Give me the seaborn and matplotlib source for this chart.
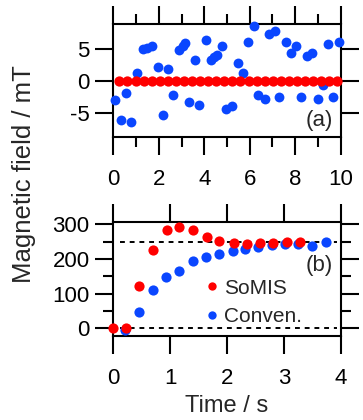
import matplotlib
matplotlib.use("Agg")
import matplotlib.pyplot as plt
import seaborn as sns
import pandas as pd
from matplotlib.ticker import MultipleLocator, NullLocator
from matplotlib.lines import Line2D

# ---- data: panel (a) ----
a_somis_t = [0.27, 0.62, 0.98, 1.33, 1.69, 2.04, 2.40, 2.75, 3.11, 3.46, 3.82, 4.17, 4.53, 4.88,
             5.24, 5.59, 5.95, 6.30, 6.66, 7.01, 7.37, 7.72, 8.08, 8.43, 8.79, 9.14, 9.50, 9.85]
a_somis_b = [0.0] * 28
a_conv_t = [0.07, 0.32, 0.54, 0.78, 1.03, 1.29, 1.47, 1.69, 1.98, 2.20, 2.42, 2.64, 2.89, 3.05, 3.15,
            3.34, 3.59, 3.78, 4.08, 4.28, 4.43, 4.55, 4.77, 4.96, 5.20, 5.47, 5.72, 5.94, 6.20, 6.38,
            6.67, 6.85, 7.11, 7.29, 7.58, 7.82, 8.02, 8.25, 8.50, 8.75, 8.99, 9.21, 9.43, 9.67, 9.94]
a_conv_b = [-3.0, -6.0, -1.8, -6.4, 1.3, 5.0, 5.1, 5.4, 2.1, -5.2, 1.8, -2.15, 4.8, 5.4, 5.8,
            -3.3, 3.3, -3.7, 6.3, 3.3, 3.7, 4.05, 5.4, -4.4, -3.8, 2.8, 1.3, 6.05, 8.45, -2.15,
            -2.8, 7.2, 7.7, -2.5, 5.95, 4.25, 5.4, -2.5, 3.9, 4.25, -2.8, -0.6, 5.7, -2.5, 6.05]

# ---- data: panel (b) ----
b_somis_t = [0.0, 0.22, 0.46, 0.69, 0.94, 1.16, 1.41, 1.64, 1.86, 2.12, 2.35, 2.58, 2.81, 3.05, 3.28]
b_somis_b = [0, 0, 123, 226, 283, 293, 283, 264, 252, 246, 245, 246, 247, 249, 250]
b_conv_t = [0.21, 0.46, 0.69, 0.93, 1.16, 1.40, 1.63, 1.86, 2.11, 2.32, 2.55, 2.79, 3.02, 3.25, 3.50, 3.74]
b_conv_b = [-5, 48, 110, 147, 166, 194, 205, 216, 223, 228, 235, 240, 243, 244, 238, 250]

ref_levels = [0, 250]
labels = ["SoMIS", "Conven."]

RED = "#ff0000"
BLUE = "#0a46ff"

sns.set_style("white")
plt.rcParams["font.family"] = ["Liberation Sans", "DejaVu Sans"]
plt.rcParams["font.size"] = 16
plt.rcParams["axes.unicode_minus"] = False

fig = plt.figure(figsize=(3.63, 4.2), dpi=100)
W, H = 363.0, 420.0
ax1 = fig.add_axes([113.3 / W, 1 - 137 / H, 227.4 / W, 113 / H])
ax2 = fig.add_axes([113.3 / W, 1 - 335.7 / H, 227.4 / W, 114 / H])

df_a_c = pd.DataFrame({"t": a_conv_t, "b": a_conv_b})
df_a_s = pd.DataFrame({"t": a_somis_t, "b": a_somis_b})
df_b_c = pd.DataFrame({"t": b_conv_t, "b": b_conv_b})
df_b_s = pd.DataFrame({"t": b_somis_t, "b": b_somis_b})

sns.scatterplot(data=df_a_c, x="t", y="b", ax=ax1, color=BLUE, s=50, linewidth=0, clip_on=False, zorder=3)
sns.scatterplot(data=df_a_s, x="t", y="b", ax=ax1, color=RED, s=55, linewidth=0, clip_on=False, zorder=4)

for lv in ref_levels:
    ax2.axhline(lv, xmin=0.03, xmax=0.985, color="black", lw=1.4, ls=(0, (2.5, 2.5)), zorder=2)
sns.scatterplot(data=df_b_c, x="t", y="b", ax=ax2, color=BLUE, s=54, linewidth=0, clip_on=False, zorder=3)
sns.scatterplot(data=df_b_s, x="t", y="b", ax=ax2, color=RED, s=54, linewidth=0, clip_on=False, zorder=4)

ax1.set_xlim(0, 10)
ax1.set_ylim(-8.65, 8.8)
ax2.set_xlim(0, 4)
ax2.set_ylim(-21, 308)

ax1.xaxis.set_major_locator(MultipleLocator(2))
ax1.xaxis.set_minor_locator(MultipleLocator(1))
ax1.yaxis.set_major_locator(MultipleLocator(5))
ax1.yaxis.set_minor_locator(NullLocator())
ax2.xaxis.set_major_locator(MultipleLocator(1))
ax2.xaxis.set_minor_locator(NullLocator())
ax2.yaxis.set_major_locator(MultipleLocator(100))
ax2.yaxis.set_minor_locator(MultipleLocator(50))

for ax in (ax1, ax2):
    ax.set_xlabel("")
    ax.set_ylabel("")
    for sp in ax.spines.values():
        sp.set_visible(True)
        sp.set_color("black")
        sp.set_linewidth(1.5)
    ax.tick_params(which="both", direction="out", top=True, right=True, bottom=True, left=True,
                   color="black", width=1.5, labelsize=16, labelcolor="black")
    ax.tick_params(which="major", length=13)
    ax.tick_params(which="minor", length=7)
    ax.tick_params(axis="x", which="major", pad=10)
    ax.tick_params(axis="y", which="major", pad=4)
    ax.set_facecolor("white")

ax1.text(0.965, 0.05, "(a)", transform=ax1.transAxes, ha="right", va="bottom", fontsize=16)
ax2.text(0.965, 0.62, "(b)", transform=ax2.transAxes, ha="right", va="center", fontsize=16)

handles = [Line2D([], [], ls="none", marker="o", color=RED, markersize=6, markeredgewidth=0),
           Line2D([], [], ls="none", marker="o", color=BLUE, markersize=6, markeredgewidth=0)]
ax2.legend(handles, labels, loc="upper left", bbox_to_anchor=(0.40, 0.50), frameon=False,
           fontsize=15, borderpad=0, borderaxespad=0, handlelength=0.7, handletextpad=0.25,
           labelspacing=0.45)

fig.text(24 / W, 1 - 174 / H, "Magnetic field / mT", rotation=90, ha="center", va="center", fontsize=18.5)
fig.text(227 / W, 1 - 406 / H, "Time / s", ha="center", va="center", fontsize=17)

fig.savefig("out.png", dpi=100, facecolor="white")
